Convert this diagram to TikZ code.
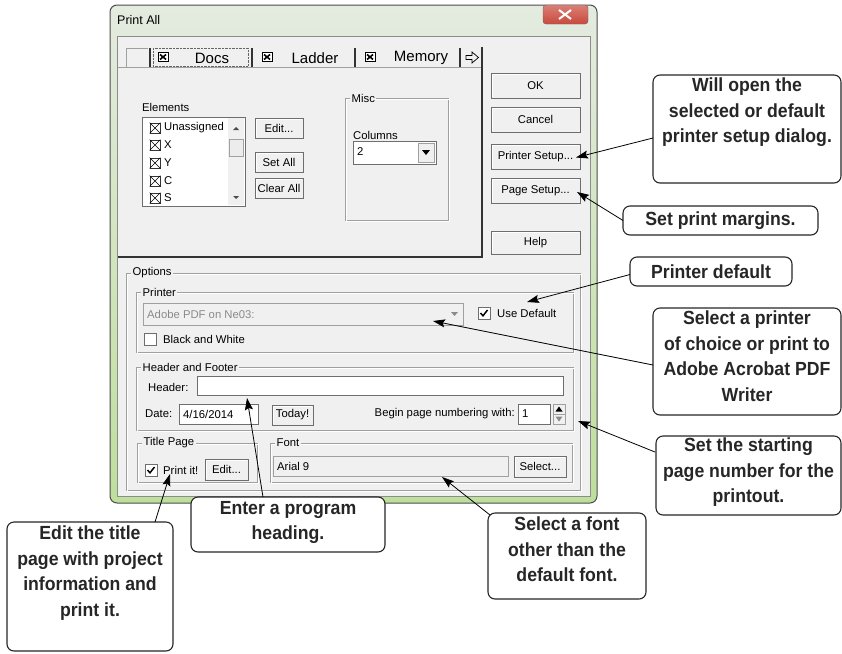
\documentclass[tikz,border=0pt]{standalone}
\usepackage{fontspec}
\setmainfont{Liberation Sans}
\newfontfamily\callfont{Liberation Sans}[FakeStretch=0.93]
\usetikzlibrary{arrows.meta,calc}
\definecolor{dlgbg}{HTML}{F0F0F0}
\definecolor{edgec}{HTML}{A0A0A0}
\definecolor{darkc}{HTML}{6E6E6E}
\definecolor{frametop}{HTML}{E4EBE0}
\definecolor{framebot}{HTML}{BEDF9C}
\definecolor{closered}{HTML}{C9493C}
\definecolor{graytext}{HTML}{8A8A8A}
\newcommand\dlgbtn[6]{%
  \node[dbtn, minimum width={#4-#2}, minimum height={#5-#3}] (#1) at ({(#2+#4)/2},{(#3+#5)/2}) {#6};
  \draw[white] ([shift={(1,-1)}]#1.south west) |- ([shift={(-1,1)}]#1.north east);
}
\newcommand\grp[6]{%
  \draw[edgec] (#2,#3) rectangle (#4,#5);
  \draw[white] (#2+1,#3+1) rectangle (#4+1,#5+1);
  \node[glabel] (#1) at (#2+5,#3) {#6};
}
\newcommand\chkbox[4]{%
  \node[cbox] (#1) at (#2,#3) {};
  \ifnum#4=1 \draw[line width=1.5] ([shift={(-3.5,0)}]#1.center) -- ([shift={(-1,2.8)}]#1.center) -- ([shift={(3.5,-3)}]#1.center);\fi
}
\newcommand\xbox[3]{%
  \node[xb] (#1) at (#2,#3) {};
  \draw[line width=0.6] (#1.north west) -- (#1.south east) (#1.north east) -- (#1.south west);
}
\newcommand\tabchk[3]{%
  \node[tb] (#1) at (#2,#3) {};
  \draw[line width=1.6] ([shift={(2.2,2.2)}]#1.north west) -- ([shift={(-2.2,-2.2)}]#1.south east)
     ([shift={(-2.2,2.2)}]#1.north east) -- ([shift={(2.2,-2.2)}]#1.south west);
}
\begin{document}
\begin{tikzpicture}[x=1pt,y=-1pt,
  font=\fontsize{11.3}{13}\selectfont,
  dbtn/.style={draw=darkc, fill=dlgbg, inner sep=0, outer sep=0},
  glabel/.style={anchor=west, fill=dlgbg, inner sep=1.5pt},
  cbox/.style={draw=darkc, fill=white, minimum size=12, inner sep=0},
  xb/.style={draw=black!80, line width=0.6, fill=white, minimum size=10, inner sep=0},
  tb/.style={draw=black, fill=white, minimum width=10, minimum height=9, inner sep=0},
  lbl/.style={anchor=west, inner sep=0},
  tabtxt/.style={inner sep=0, font=\fontsize{15}{17}\selectfont},
  callbox/.style={draw=black!85, line width=1.1, rounded corners=7, fill=white, inner sep=0, outer sep=0, anchor=north west},
  calltext/.style={font={\callfont\bfseries\fontsize{19}{25.5}\selectfont}, align=center, anchor=north, inner sep=0, text=black!85},
  arr/.style={-{Stealth[length=12pt,width=8pt,inset=2pt]}, line width=0.8, black}
]
\useasboundingbox (0,0) rectangle (842,653);
% ---------- window frame ----------
\path[draw=black!70, line width=1, rounded corners=7, top color=frametop, bottom color=framebot] (110,5) rectangle (597,503);
\draw[fill=dlgbg, draw=black!45] (117,36) rectangle (590,496);
\node[lbl, font=\fontsize{12.5}{14}\selectfont] (title) at (117,20) {Print All};
\draw[rounded corners=3, top color=closered!70!white, bottom color=closered, draw=black!60] (543,5) rectangle (588,24);
\draw[white, line width=2] (559,10) -- (571,19) (559,19) -- (571,10);
% ---------- tabs ----------
\draw[edgec] (126,67) -- (126,48) -- (148,48);
\draw[densely dotted, black!60] (153,48) rectangle (248,66);
\foreach \bx in {150,252,355,460} \draw[line width=1.6, black!80] (\bx,48) -- (\bx,67);
\tabchk{tc1}{163}{57}
\tabchk{tc2}{267}{57}
\tabchk{tc3}{370}{57}
\node[tabtxt] (tDocs) at (212,58) {Docs};
\node[tabtxt] (tLad) at (315,58) {Ladder};
\node[tabtxt] (tMem) at (421,58) {Memory};
\draw[line width=0.7] (466,55.5) -- (472,55.5) -- (472,52) -- (478.5,57.5) -- (472,63) -- (472,59.5) -- (466,59.5) -- cycle;
% tab panel
\draw[edgec] (118,67) -- (482,67);
\draw[line width=1.2, black!80] (482,47) -- (482,257) -- (118,257);
% ---------- Elements ----------
\node[lbl] (lElem) at (142,107) {Elements};
\draw[fill=white, draw=darkc] (142,117) rectangle (245,206);
\xbox{x1}{155}{128}
\xbox{x2}{155}{145}
\xbox{x3}{155}{163}
\xbox{x4}{155}{181}
\xbox{x5}{155}{198}
\node[lbl] (iU) at (164,128) {Unassigned};
\node[lbl] (iX) at (164,145) {X};
\node[lbl] (iY) at (164,163) {Y};
\node[lbl] (iC) at (164,181) {C};
\node[lbl] (iS) at (164,198) {S};
\draw[fill=dlgbg, draw=none] (228,118) rectangle (244,205);
\draw[fill=white!85!gray, draw=edgec] (229,139) rectangle (243,156);
\fill[black!70] (233,130) -- (239,130) -- (236,127) -- cycle;
\fill[black!70] (233,196) -- (239,196) -- (236,199) -- cycle;
\dlgbtn{bEdit}{255}{118}{303}{138}{Edit...}
\dlgbtn{bSet}{255}{152}{303}{172}{Set All}
\dlgbtn{bClr}{255}{178}{303}{198}{Clear All}
% ---------- Misc ----------
\grp{gMisc}{345}{98}{448}{220}{Misc}
\node[lbl] (lCol) at (353,135) {Columns};
\draw[fill=white, draw=darkc] (353,141) rectangle (436,164);
\node[lbl] (vCol) at (357,152) {2};
\draw[fill=dlgbg, draw=edgec] (418,143) rectangle (434,162);
\fill (422,150) -- (430,150) -- (426,155) -- cycle;
% ---------- right buttons ----------
\dlgbtn{bOK}{491}{73}{580}{98}{OK}
\dlgbtn{bCan}{491}{107}{580}{132}{Cancel}
\dlgbtn{bPS}{491}{144}{580}{169}{Printer Setup...}
\dlgbtn{bPg}{491}{178}{580}{203}{Page Setup...}
\dlgbtn{bHelp}{491}{231}{580}{254}{Help}
% ---------- Options ----------
\grp{gOpt}{126}{273}{580}{490}{Options}
\grp{gPrn}{136}{292}{573}{352}{Printer}
\draw[fill=dlgbg, draw=edgec] (143,303) rectangle (463,325);
\node[lbl, text=graytext] (vPrn) at (147,314) {Adobe PDF on Ne03:};
\fill[graytext] (451,312) -- (458,312) -- (454.5,316) -- cycle;
\chkbox{cUse}{484}{313}{1}
\node[lbl] (lUse) at (497,313) {Use Default};
\chkbox{cBW}{150}{339}{0}
\node[lbl] (lBW) at (163,339) {Black and White};
% Header and footer
\grp{gHF}{136}{367}{573}{430}{Header and Footer}
\node[lbl] (lHead) at (148,387) {Header:};
\draw[fill=white, draw=darkc] (197,376) rectangle (563,395);
\node[lbl] (lDate) at (145,414) {Date:};
\draw[fill=white, draw=darkc] (179,404) rectangle (258,424);
\node[lbl] (vDate) at (183,414) {4/16/2014};
\dlgbtn{bToday}{272}{405}{313}{425}{Today!}
\node[anchor=east, inner sep=0] (lBeg) at (515,414) {Begin page numbering with:};
\draw[fill=white, draw=darkc] (518,404) rectangle (550,424);
\node[lbl] (vBeg) at (522,414) {1};
\draw[fill=dlgbg, draw=edgec] (553,404) rectangle (565,424) (553,414) -- (565,414);
\fill (555.5,411.5) -- (562.5,411.5) -- (559,406.5) -- cycle;
\fill[graytext] (555.5,416.5) -- (562.5,416.5) -- (559,421.5) -- cycle;
% Title page / Font
\grp{gTitle}{137}{443}{257}{482}{Title Page}
\chkbox{cPrint}{151}{470}{1}
\node[lbl] (lPrint) at (163,470) {Print it!};
\dlgbtn{bEdit2}{205}{459}{248}{480}{Edit...}
\grp{gFont}{270}{443}{572}{482}{Font}
\draw[fill=dlgbg, draw=edgec] (273,456) rectangle (508,476);
\node[lbl] (vFont) at (277,466) {Arial 9};
\dlgbtn{bSel}{514}{456}{566}{477}{Select...}
% ---------- callouts ----------
\node[callbox, minimum width=188, minimum height=108] (cWill) at (653,75) {};
\node[calltext] (tWill) at ([yshift=-3pt]cWill.north) {Will open the\\selected or default\\printer setup dialog.};
\node[callbox, minimum width=195, minimum height=29] (cMarg) at (623,206) {};
\node[calltext, anchor=center] (tMarg) at ([yshift=-0.5pt]cMarg.center) {Set print margins.};
\node[callbox, minimum width=162, minimum height=29] (cDef) at (630,257) {};
\node[calltext, anchor=center] (tDef) at ([yshift=-0.5pt]cDef.center) {Printer default};
\node[callbox, minimum width=188, minimum height=107] (cSel) at (653,308) {};
\node[calltext] (tSel) at ([yshift=-3pt]cSel.north) {Select a printer\\of choice or print to\\Adobe Acrobat PDF\\Writer};
\node[callbox, minimum width=185, minimum height=79] (cStart) at (656,436) {};
\node[calltext] (tStart) at ([yshift=-2pt]cStart.north) {Set the starting\\page number for the\\printout.};
\node[callbox, minimum width=194, minimum height=55] (cHead) at (191,497) {};
\node[calltext] (tHead) at ([yshift=-4pt]cHead.north) {Enter a program\\heading.};
\node[callbox, minimum width=166, minimum height=129] (cTitle) at (7,522) {};
\node[calltext] (tTitle) at ([yshift=-4pt]cTitle.north) {Edit the title\\page with project\\information and\\print it.};
\node[callbox, minimum width=158, minimum height=86] (cFont) at (488,513) {};
\node[calltext] (tFont) at ([yshift=-4pt]cFont.north) {Select a font\\other than the\\default font.};
% ---------- arrows ----------
\coordinate (aPS) at ([xshift=-4pt,yshift=-1pt]bPS.east);
\coordinate (aPg) at ([xshift=-3pt,yshift=-1.5pt]bPg.east);
\coordinate (aUse) at (527,302);
\coordinate (aPrn) at (433,321);
\coordinate (aBeg) at (578,421);
\coordinate (aFont) at (442,477);
\coordinate (aHead) at (247,398);
\coordinate (aTitle) at (170,474);
\draw[arr] ([yshift=-9pt]cWill.west) -- (aPS);
\draw[arr] (cMarg.west) -- (aPg);
\draw[arr] ([yshift=-3pt]cDef.west) -- (aUse);
\draw[arr] ([yshift=-3.5pt]cSel.west) -- (aPrn);
\draw[arr] ([yshift=-1pt,xshift=-1pt]cStart.north west |- 0,451) -- (aBeg);
\draw[arr] ([xshift=2pt,yshift=-2pt]cFont.north west) -- (aFont);
\draw[arr] ([xshift=72pt]cHead.north west) -- (aHead);
\draw[arr] ([xshift=-18pt]cTitle.north east) -- (aTitle);
\end{tikzpicture}
\end{document}
